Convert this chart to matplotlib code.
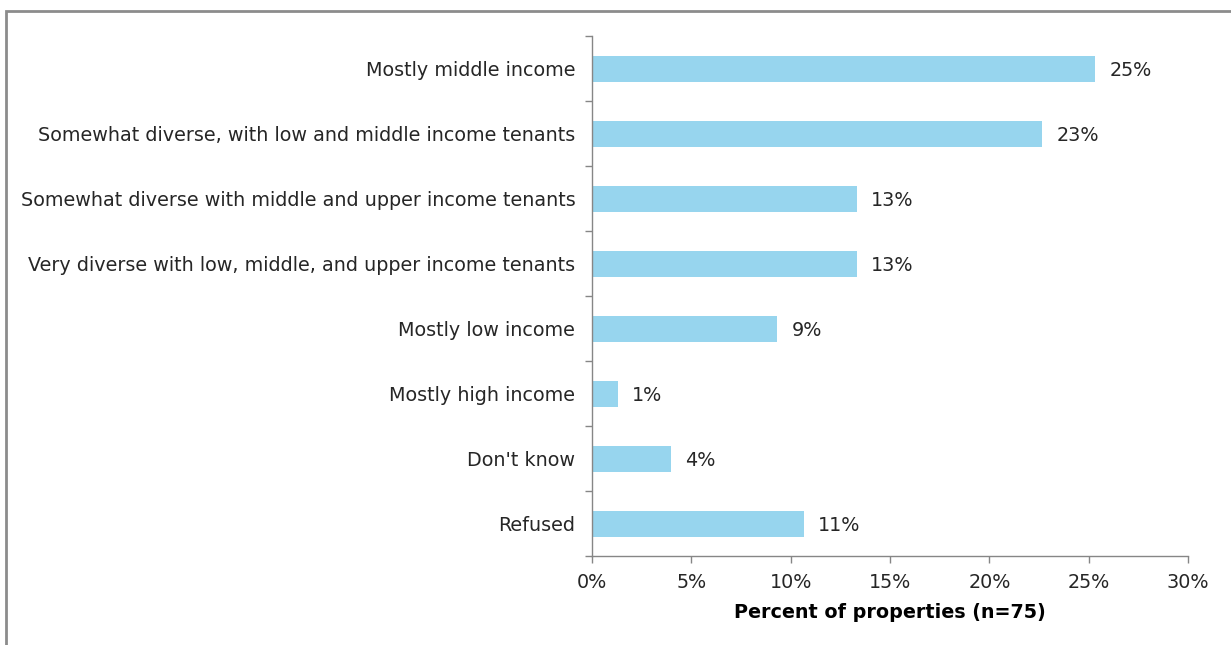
import matplotlib
matplotlib.use("Agg")
import matplotlib.pyplot as plt
from matplotlib.patches import Rectangle
from matplotlib.ticker import FuncFormatter, MultipleLocator

categories = [
    "Mostly middle income",
    "Somewhat diverse, with low and middle income tenants",
    "Somewhat diverse with middle and upper income tenants",
    "Very diverse with low, middle, and upper income tenants",
    "Mostly low income",
    "Mostly high income",
    "Don't know",
    "Refused",
]
# share of the 75 surveyed properties, in percent
percent = [25.33, 22.67, 13.33, 13.33, 9.33, 1.33, 4.0, 10.67]
x_label = "Percent of properties (n=75)"

bar_color = "#97D5EE"
axis_color = "#868686"
text_color = "#262626"
fs = 13.8

plt.rcParams["font.family"] = ["DejaVu Sans"]

W, H = 1231, 645
fig = plt.figure(figsize=(W / 100, H / 100), dpi=100)
fig.patch.set_facecolor("white")

# outer frame of the chart area
fig.add_artist(Rectangle((6 / W, -0.1), 1.2, 1 - 11 / H + 0.1,
                         transform=fig.transFigure, fill=False,
                         edgecolor="#8c8c8c", linewidth=2.0))

ax = fig.add_axes([592 / W, 1 - 556 / H, (1188 - 592) / W, (556 - 36) / H])
y = list(range(len(categories)))
ax.barh(y, percent, height=0.4, color=bar_color, edgecolor="none")

for yi, v in zip(y, percent):
    ax.text(v + 0.7, yi, f"{v:.0f}%", va="center_baseline", ha="left",
            fontsize=fs, color=text_color)

ax.set_xlim(0, 30)
ax.set_ylim(len(categories) - 0.5, -0.5)
ax.xaxis.set_major_locator(MultipleLocator(5))
ax.xaxis.set_major_formatter(FuncFormatter(lambda v, p: f"{v:.0f}%"))

ax.set_yticks(y)
ax.set_yticklabels(categories)
ax.set_yticks([i - 0.5 for i in range(len(categories) + 1)], minor=True)
ax.tick_params(axis="y", which="major", length=0, pad=12,
               labelsize=fs, labelcolor=text_color)
ax.tick_params(axis="y", which="minor", length=5, width=1, color=axis_color,
               direction="out")
ax.tick_params(axis="x", which="major", length=5, width=1, color=axis_color,
               direction="out", pad=7, labelsize=fs, labelcolor=text_color)

for side in ("top", "right"):
    ax.spines[side].set_visible(False)
for side in ("left", "bottom"):
    ax.spines[side].set_color(axis_color)
    ax.spines[side].set_linewidth(1)

ax.set_xlabel(x_label, fontsize=fs, fontweight="bold", color="black",
              labelpad=8)

fig.savefig("out.png", dpi=100, facecolor="white")
